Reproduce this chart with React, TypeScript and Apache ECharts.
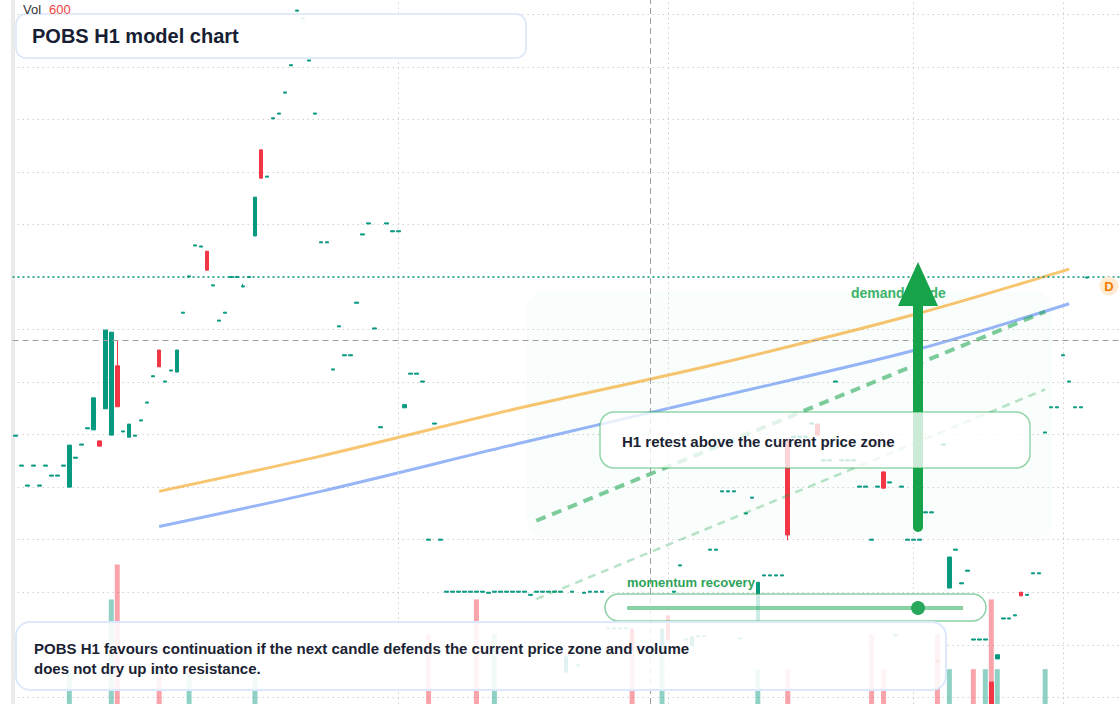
import React, { useEffect, useRef } from 'react';
import * as echarts from 'echarts';

// ---- price data (one H1 candle per entry) ----
const opens = [
  1.697, 1.640, 1.602, 1.640, 1.602, 1.640, 1.621, 1.621, 1.640, 1.600,
  1.655, 1.680, 1.711, 1.709, 1.688, 1.749, 1.699, 1.831, 1.705, 1.695,
  1.697, 1.726, 1.760, 1.810, 1.861, 1.800, 1.821, 1.819, 1.931, 2.000,
  2.059, 2.057, 2.049, 1.983, 1.916, 1.931, 1.999, 1.999, 1.981, 1.999,
  2.078, 2.242, 2.190, 2.301, 2.310, 2.350, 2.402, 2.506, 2.491, 2.411,
  2.310, 2.065, 2.065, 1.823, 1.905, 1.850, 1.850, 1.950, 2.080, 2.101,
  1.901, 1.713, 2.101, 2.086, 2.086, 1.751, 1.815, 1.815, 1.800, 1.499,
  1.720, 1.499, 1.400, 1.400, 1.400, 1.400, 1.400, 1.400, 1.400, 1.398,
  1.400, 1.400, 1.400, 1.400, 1.400, 1.400, 1.394, 1.400, 1.400, 1.400,
  1.400, 1.400, 1.248, 1.400, 1.260, 1.398, 1.400, 1.400, 1.400, 1.330,
  1.330, 1.330, 1.330, 1.330, 1.290, 1.290, 1.290, 1.290, 1.290, 1.355,
  1.400, 1.450, 1.309, 1.298, 1.315, 1.315, 1.480, 1.480, 1.591, 1.591,
  1.591, 1.311, 1.549, 1.579, 1.347, 1.431, 1.431, 1.431, 1.431, 1.690,
  1.695, 1.695, 1.695, 1.720, 1.720, 1.650, 1.650, 1.800, 1.650, 1.650,
  1.650, 1.600, 1.600, 1.499, 1.600, 1.629, 1.608, 1.317, 1.600, 1.499,
  1.499, 1.499, 1.551, 1.551, 1.271, 1.680, 1.408, 1.480, 1.416, 1.440,
  1.309, 1.309, 1.309, 1.229, 1.273, 1.349, 1.349, 1.355, 1.400, 1.394,
  1.435, 1.435, 1.703, 1.751, 1.751, 1.850, 1.800, 1.751, 1.751, 1.998,
];
const closes = [
  1.699, 1.642, 1.604, 1.642, 1.604, 1.642, 1.623, 1.623, 1.642, 1.680,
  1.657, 1.682, 1.713, 1.770, 1.678, 1.899, 1.895, 1.753, 1.707, 1.720,
  1.699, 1.728, 1.762, 1.812, 1.829, 1.802, 1.823, 1.861, 1.933, 2.002,
  2.061, 2.059, 2.013, 1.985, 1.918, 1.933, 2.001, 2.001, 1.983, 2.001,
  2.152, 2.188, 2.192, 2.303, 2.312, 2.352, 2.404, 2.508, 2.493, 2.413,
  2.312, 2.067, 2.067, 1.825, 1.907, 1.852, 1.852, 1.952, 2.082, 2.103,
  1.903, 1.715, 2.103, 2.088, 2.088, 1.757, 1.817, 1.817, 1.802, 1.501,
  1.722, 1.501, 1.402, 1.402, 1.402, 1.402, 1.402, 1.402, 1.402, 1.400,
  1.402, 1.402, 1.402, 1.402, 1.402, 1.402, 1.396, 1.402, 1.402, 1.402,
  1.402, 1.402, 1.277, 1.402, 1.262, 1.400, 1.402, 1.402, 1.402, 1.332,
  1.332, 1.332, 1.332, 1.290, 1.292, 1.292, 1.292, 1.292, 1.330, 1.309,
  1.402, 1.452, 1.311, 1.315, 1.317, 1.317, 1.482, 1.482, 1.593, 1.593,
  1.593, 1.313, 1.551, 1.581, 1.419, 1.433, 1.433, 1.433, 1.433, 1.509,
  1.697, 1.697, 1.697, 1.722, 1.699, 1.652, 1.652, 1.802, 1.652, 1.652,
  1.652, 1.602, 1.602, 1.501, 1.602, 1.598, 1.610, 1.319, 1.602, 1.501,
  1.501, 1.501, 1.553, 1.553, 1.267, 1.682, 1.467, 1.482, 1.418, 1.442,
  1.311, 1.311, 1.311, 1.150, 1.281, 1.351, 1.351, 1.357, 1.393, 1.396,
  1.437, 1.437, 1.705, 1.753, 1.753, 1.852, 1.802, 1.753, 1.753, 2.000,
];
// wicks that reach beyond the body
const highWicks: Record<number, number> = { 17: 1.878, 38: 1.987 };
const lowWicks: Record<number, number> = { 129: 1.499 };

// ---- volume (only bars that are drawn) ----
const volumeIndex = [9, 16, 17, 24, 29, 40, 69, 77, 80, 103, 108, 124, 129, 143, 145, 154, 156, 160, 162, 163, 164, 172];
const volumeValues = [135, 450, 600, 135, 135, 135, 300, 450, 300, 300, 300, 150, 150, 300, 150, 300, 150, 150, 150, 450, 150, 150];
const volumeSide = ['u', 'u', 'd', 'd', 'u', 'u', 'd', 'd', 'u', 'd', 'u', 'u', 'd', 'd', 'd', 'd', 'u', 'd', 'u', 'd', 'u', 'u'];

// ---- guide lines ----
const trendIdx = [24, 51, 84, 117, 150, 176];
const orangeTrend = [1.592, 1.659, 1.750, 1.834, 1.928, 2.015];
const blueTrend = [1.525, 1.592, 1.683, 1.771, 1.860, 1.949];
const channelIdx = [87, 172];
const channelUpper = [1.536, 1.934];
const channelLower = [1.387, 1.786];

// ---- reference levels ----
const lastClose = 2.0;
const crosshairPrice = 1.884;
const crosshairIndex = 106;
const sessionLines = [64, 109, 150, 175];
const totalSlots = 185;

const categories = Array.from({ length: totalSlots }, (_, i) => 'H' + (i + 1));

const UP = '#089981';
const DOWN = '#f23645';
const FONT = '"Liberation Sans", Arial, Helvetica, sans-serif';

function buildOption() {
  const candles = opens.map((o, i) => {
    const c = closes[i];
    const hi = highWicks[i] !== undefined ? highWicks[i] : Math.max(o, c);
    const lo = lowWicks[i] !== undefined ? lowWicks[i] : Math.min(o, c);
    return [o, c, lo, hi];
  });
  const vol: any[] = categories.map(() => null);
  volumeIndex.forEach((idx, k) => {
    vol[idx] = {
      value: volumeValues[k],
      itemStyle: { color: volumeSide[k] === 'u' ? 'rgba(8,153,129,0.45)' : 'rgba(242,54,69,0.45)' },
    };
  });
  const sparse = (idx: number[], vals: number[]) => {
    const arr: (number | null)[] = categories.map(() => null);
    idx.forEach((ix, k) => (arr[ix] = vals[k]));
    return arr;
  };

  const gridLine = { color: '#d0d0d0', width: 1, type: [1.5, 3.5] as any };

  return {
    animation: false,
    textStyle: { fontFamily: FONT },
    grid: { left: 12.5, top: 0, width: 1110, height: 704 },
    xAxis: {
      type: 'category',
      data: categories,
      boundaryGap: true,
      axisLine: { show: false },
      axisTick: { show: false },
      axisLabel: { show: false },
      splitLine: { show: false },
    },
    yAxis: [
      {
        type: 'value',
        min: 1.18725,
        max: 2.52718,
        splitNumber: 13,
        axisLine: { show: true, lineStyle: { color: '#ebebeb', width: 4 } },
        axisTick: { show: false },
        axisLabel: { show: false },
        splitLine: { show: true, showMinLine: false, showMaxLine: false, lineStyle: gridLine },
      },
      {
        type: 'value',
        min: 0,
        max: 3030,
        show: false,
        splitLine: { show: false },
      },
    ],
    series: [
      {
        type: 'bar',
        yAxisIndex: 1,
        data: vol,
        barWidth: 5,
        z: 1,
        silent: true,
      },
      {
        type: 'candlestick',
        data: candles,
        barWidth: 4,
        z: 3,
        itemStyle: {
          color: UP,
          color0: DOWN,
          borderColor: UP,
          borderColor0: DOWN,
          borderWidth: 1,
        },
        markLine: {
          silent: true,
          symbol: ['none', 'none'],
          label: { show: false },
          data: [
            ...sessionLines.map((ix) => ({ xAxis: categories[ix], lineStyle: gridLine })),
            { xAxis: categories[crosshairIndex], lineStyle: { color: '#9e9e9e', width: 1, type: [6, 4] } },
            { yAxis: crosshairPrice, lineStyle: { color: '#9e9e9e', width: 1, type: [6, 4] } },
            { yAxis: lastClose, lineStyle: { color: UP, width: 1.5, type: [2, 3] } },
          ],
        },
      },
      {
        type: 'line',
        data: sparse(trendIdx, orangeTrend),
        connectNulls: true,
        smooth: 0.3,
        showSymbol: false,
        symbol: 'none',
        z: 4,
        lineStyle: { color: 'rgba(245,166,35,0.65)', width: 3 },
      },
      {
        type: 'line',
        data: sparse(trendIdx, blueTrend),
        connectNulls: true,
        smooth: 0.3,
        showSymbol: false,
        symbol: 'none',
        z: 4,
        lineStyle: { color: 'rgba(66,120,240,0.55)', width: 3 },
      },
      {
        type: 'line',
        data: sparse(channelIdx, channelUpper),
        connectNulls: true,
        showSymbol: false,
        symbol: 'none',
        z: 4,
        lineStyle: { color: 'rgba(22,163,74,0.55)', width: 4, type: [10, 7] },
      },
      {
        type: 'line',
        data: sparse(channelIdx, channelLower),
        connectNulls: true,
        showSymbol: false,
        symbol: 'none',
        z: 4,
        lineStyle: { color: 'rgba(22,163,74,0.3)', width: 2.5, type: [8, 6] },
      },
    ],
    graphic: [
      // demand zone
      {
        type: 'rect',
        z: 0,
        shape: { x: 527, y: 292, width: 525, height: 246, r: 16 },
        style: { fill: 'rgba(34,197,94,0.028)' },
        silent: true,
      },
      // demand guide label
      {
        type: 'text',
        z: 40,
        x: 851,
        y: 293,
        style: { text: 'demand guide', fill: '#3cb36a', fontSize: 14, fontWeight: 'bold', fontFamily: FONT, verticalAlign: 'middle' },
      },
      // arrow
      {
        type: 'line',
        z: 50,
        shape: { x1: 918, y1: 527, x2: 918, y2: 300 },
        style: { stroke: '#16a34a', lineWidth: 10, lineCap: 'round' },
      },
      {
        type: 'polygon',
        z: 50,
        shape: { points: [[898, 306], [938, 306], [918, 262]] },
        style: { fill: '#16a34a' },
      },
      // retest box
      {
        type: 'rect',
        z: 100,
        shape: { x: 600, y: 412, width: 430, height: 56, r: 14 },
        style: { fill: 'rgba(255,255,255,0.78)', stroke: 'rgba(22,163,74,0.45)', lineWidth: 1.5 },
      },
      {
        type: 'text',
        z: 101,
        x: 622,
        y: 441,
        style: { text: 'H1 retest above the current price zone', fill: '#1b2333', fontSize: 15, fontWeight: 'bold', fontFamily: FONT, verticalAlign: 'middle' },
      },
      // momentum widget
      {
        type: 'text',
        z: 101,
        x: 627,
        y: 582,
        style: { text: 'momentum recovery', fill: '#2ea35a', fontSize: 13, fontWeight: 'bold', fontFamily: FONT, verticalAlign: 'middle' },
      },
      {
        type: 'rect',
        z: 100,
        shape: { x: 605, y: 594, width: 381, height: 27, r: 13.5 },
        style: { fill: 'rgba(255,255,255,0.8)', stroke: 'rgba(22,163,74,0.5)', lineWidth: 1.5 },
      },
      {
        type: 'line',
        z: 101,
        shape: { x1: 627, y1: 608, x2: 963, y2: 608 },
        style: { stroke: 'rgba(22,163,74,0.5)', lineWidth: 4 },
      },
      {
        type: 'circle',
        z: 102,
        shape: { cx: 918, cy: 608, r: 7 },
        style: { fill: '#27a85a' },
      },
      // title box
      {
        type: 'rect',
        z: 100,
        shape: { x: 16, y: 14, width: 510, height: 44, r: 10 },
        style: { fill: 'rgba(255,255,255,0.88)', stroke: '#d8e5f7', lineWidth: 1.5 },
      },
      {
        type: 'text',
        z: 101,
        x: 32,
        y: 36,
        style: { text: 'POBS H1 model chart', fill: '#172033', fontSize: 20, fontWeight: 'bold', fontFamily: FONT, verticalAlign: 'middle' },
      },
      // summary box
      {
        type: 'rect',
        z: 100,
        shape: { x: 16, y: 622, width: 930, height: 68, r: 14 },
        style: { fill: 'rgba(255,255,255,0.88)', stroke: '#dce8fb', lineWidth: 2 },
      },
      {
        type: 'text',
        z: 101,
        x: 34,
        y: 648,
        style: { text: 'POBS H1 favours continuation if the next candle defends the current price zone and volume', fill: '#1b2333', fontSize: 15, fontWeight: 'bold', fontFamily: FONT, verticalAlign: 'middle' },
      },
      {
        type: 'text',
        z: 101,
        x: 34,
        y: 668,
        style: { text: 'does not dry up into resistance.', fill: '#1b2333', fontSize: 15, fontWeight: 'bold', fontFamily: FONT, verticalAlign: 'middle' },
      },
      // volume readout
      {
        type: 'text',
        z: 101,
        x: 23,
        y: 9,
        style: { text: 'Vol', fill: '#333333', fontSize: 13, fontFamily: FONT, verticalAlign: 'middle' },
      },
      {
        type: 'text',
        z: 101,
        x: 49,
        y: 9,
        style: { text: '600', fill: '#ef4444', fontSize: 13, fontFamily: FONT, verticalAlign: 'middle' },
      },
      // D marker
      {
        type: 'circle',
        z: 101,
        shape: { cx: 1109, cy: 286, r: 9.5 },
        style: { fill: '#ffead2' },
      },
      {
        type: 'text',
        z: 102,
        x: 1109,
        y: 286,
        style: { text: 'D', fill: '#f57c00', fontSize: 13, fontWeight: 'bold', fontFamily: FONT, align: 'center', verticalAlign: 'middle' },
      },
    ],
  };
}

export default function App() {
  const ref = useRef<HTMLDivElement>(null);
  useEffect(() => {
    document.body.style.margin = '0';
    const chart = echarts.init(ref.current as HTMLDivElement, null, { renderer: 'svg' });
    chart.setOption(buildOption() as any);
    return () => chart.dispose();
  }, []);
  return (
    <div
      ref={ref}
      style={{ position: 'fixed', left: 0, top: 0, width: 1120, height: 704, background: '#ffffff' }}
    />
  );
}
